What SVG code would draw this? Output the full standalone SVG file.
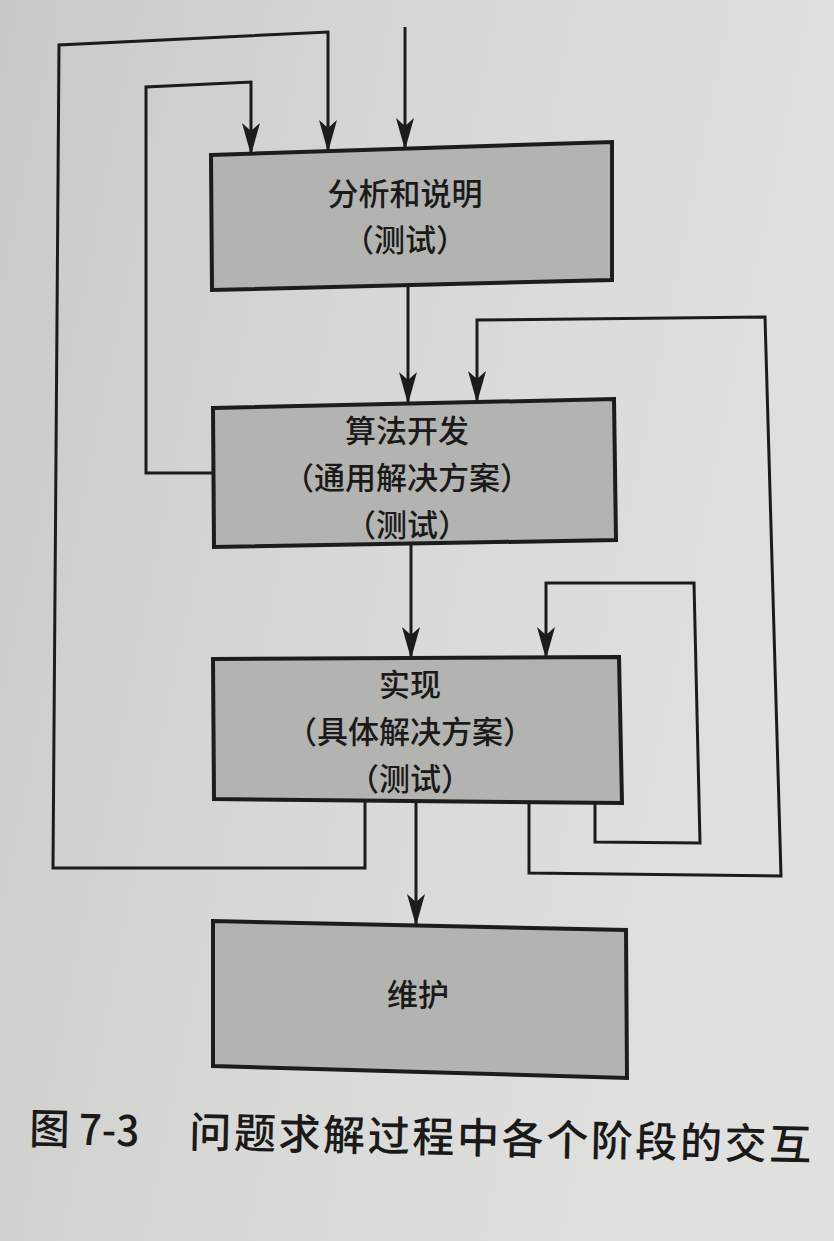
<svg xmlns="http://www.w3.org/2000/svg" width="834" height="1241" viewBox="0 0 834 1241">
  <defs>
    <linearGradient id="page" x1="0" y1="0" x2="1" y2="0.3">
      <stop offset="0" stop-color="#c9c9c7"/>
      <stop offset="0.5" stop-color="#d8d8d6"/>
      <stop offset="1" stop-color="#e0e0de"/>
    </linearGradient>
    <marker id="arr" markerUnits="userSpaceOnUse" markerWidth="32" markerHeight="20" viewBox="0 0 32 20" refX="31" refY="10" orient="auto">
      <path d="M0,1 L32,10 L0,19 L8,10 Z" fill="#1c1c1c"/>
    </marker>
    <style>
      .box { fill: #b3b3b1; stroke: #1c1c1c; stroke-width: 4; stroke-linejoin: miter; }
      .lbl { font-family: "Noto Sans CJK SC", "Noto Sans", sans-serif; font-size: 31px; font-weight: 500; fill: #1a1a1a; text-anchor: middle; }
      .cap { font-family: "Noto Sans CJK SC", "Noto Sans", sans-serif; font-size: 42px; font-weight: 500; fill: #1a1a1a; }
      .conn path { fill: none; stroke: #1c1c1c; stroke-width: 3; stroke-linejoin: miter; }
    </style>
  </defs>
  <rect x="0" y="0" width="834" height="1241" fill="url(#page)"/>

  <g id="connectors" class="conn">
    <path d="M405,27 L405,149" marker-end="url(#arr)"/>
    <path d="M365,801 L365,868 L53,868 L59,45 L328,32 L328,151" marker-end="url(#arr)"/>
    <path d="M213,473 L146,473 L146,87 L251,82 L251,154" marker-end="url(#arr)"/>
    <path d="M408,283 L408,403" marker-end="url(#arr)"/>
    <path d="M529,802 L529,873 L781,876 L765,317 L477,320 L477,402" marker-end="url(#arr)"/>
    <path d="M411,544 L411,658" marker-end="url(#arr)"/>
    <path d="M595,803 L595,842 L700,843 L694,583 L546,583 L546,658" marker-end="url(#arr)"/>
    <path d="M416,801 L416,925" marker-end="url(#arr)"/>
  </g>

  <g id="analysis">
    <polygon class="box" points="211,155 612,142 612,280 212,290"/>
    <text class="lbl" x="405" y="205">分析和说明</text>
    <text class="lbl" x="405" y="251">（测试）</text>
  </g>

  <g id="algorithm">
    <polygon class="box" points="213,408 614,399 616,540 214,547"/>
    <text class="lbl" x="407" y="442">算法开发</text>
    <text class="lbl" x="407" y="489">（通用解决方案）</text>
    <text class="lbl" x="407" y="536">（测试）</text>
  </g>

  <g id="implementation">
    <polygon class="box" points="213,659 619,657 622,803 214,799"/>
    <text class="lbl" x="410" y="696">实现</text>
    <text class="lbl" x="410" y="743">（具体解决方案）</text>
    <text class="lbl" x="410" y="790">（测试）</text>
  </g>

  <g id="maintenance">
    <polygon class="box" points="213,921 626,930 627,1078 213,1066"/>
    <text class="lbl" x="418" y="1006">维护</text>
  </g>

  <g id="caption" transform="rotate(1.2 420 1152)">
    <text class="cap" x="29" y="1152" textLength="110" lengthAdjust="spacingAndGlyphs">图 7-3</text>
    <text class="cap" x="189" y="1152" textLength="622" lengthAdjust="spacing">问题求解过程中各个阶段的交互</text>
  </g>
</svg>
